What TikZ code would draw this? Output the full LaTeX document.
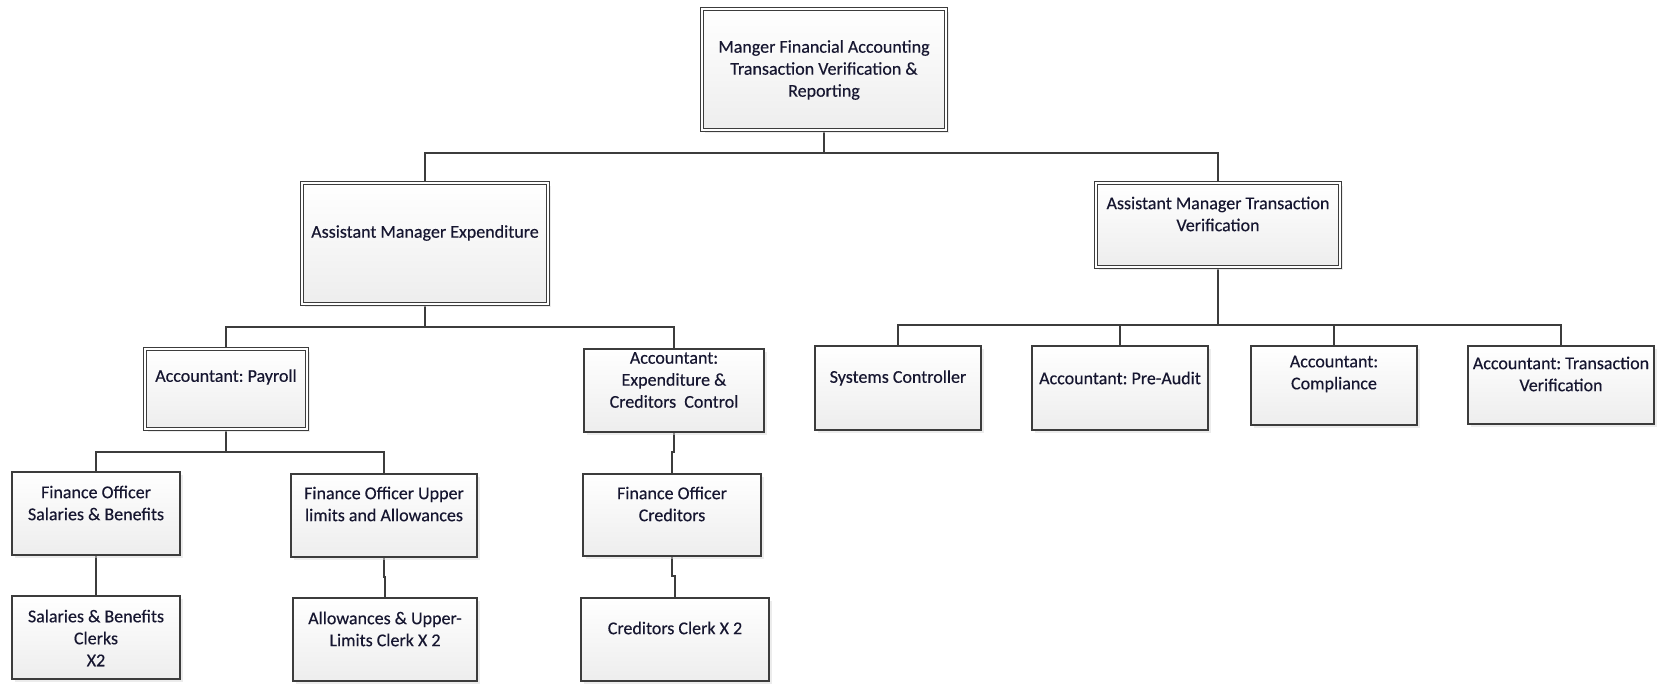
\documentclass[tikz,border=0pt]{standalone}
\usepackage{fontspec}
\setmainfont{Carlito}
\newfontfamily\capfont{Carlito}[FakeBold=0.35]
\usetikzlibrary{shadows,backgrounds}
\definecolor{edge}{RGB}{60,60,60}
\definecolor{ink}{RGB}{22,22,48}
\begin{document}
\frenchspacing
\begin{tikzpicture}[x=0.75pt,y=-0.75pt,
  card/.style 2 args={draw=edge, line width=0.95pt, outer sep=0pt, inner sep=0pt,
    anchor=north west, minimum width=#1*0.75pt, minimum height=#2*0.75pt,
    top color=white, bottom color=black!7,
    drop shadow={shadow xshift=2.2pt, shadow yshift=-2.2pt, fill=black!14}},
  headcard/.style 2 args={card={#1}{#2}, line width=0.75pt, double=white, double distance=1.5pt},
  caption/.style={align=center, text=ink, inner sep=0pt,
    font=\capfont\fontsize{13.5}{16.5}\selectfont},
  wire/.style={draw=edge, line width=1.05pt}]
\useasboundingbox (0,0) rectangle (1664,684);

% boxes of the chart
\node[headcard={244}{121}] (top) at (702,9) {};
\node[headcard={246}{121}] (amexp) at (302,183) {};
\node[headcard={244}{84}] (amtv) at (1096,183) {};
\node[headcard={162}{80}] (payroll) at (145,349) {};
\node[card={180}{83}] (accexp) at (584,349) {};
\node[card={178}{82}] (focred) at (583,474) {};
\node[card={188}{83}] (credclerk) at (581,598) {};
\node[card={168}{83}] (fosal) at (12,472) {};
\node[card={168}{83}] (salclerk) at (12,596) {};
\node[card={186}{83}] (foupper) at (291,474) {};
\node[card={184}{83}] (allowclerk) at (293,598) {};
\node[card={166}{84}] (syscon) at (815,346) {};
\node[card={176}{84}] (preaudit) at (1032,346) {};
\node[card={166}{79}] (compliance) at (1251,346) {};
\node[card={186}{78}] (transver) at (1468,346) {};

% captions
\node[caption] (top-t) at (824,70) {Manger Financial Accounting\\Transaction Verification \&\\Reporting};
\node[caption] (amexp-t) at (425,233) {Assistant Manager Expenditure};
\node[caption] (amtv-t) at (1218,214) {Assistant Manager Transaction\\Verification};
\node[caption] (payroll-t) at (226,377) {Accountant: Payroll};
\node[caption] (accexp-t) at (674,380) {Accountant:\\Expenditure \&\\Creditors\ \ Control};
\node[caption] (focred-t) at (672,504) {Finance Officer\\Creditors};
\node[caption] (credclerk-t) at (675,628) {Creditors Clerk X 2};
\node[caption] (fosal-t) at (96,503) {Finance Officer\\Salaries \& Benefits};
\node[caption] (salclerk-t) at (96,638) {Salaries \& Benefits\\Clerks\\X2};
\node[caption] (foupper-t) at (384,504) {Finance Officer Upper\\limits and Allowances};
\node[caption] (allowclerk-t) at (385,629) {Allowances \& Upper-\\Limits Clerk X 2};
\node[caption] (syscon-t) at (898,378) {Systems Controller};
\node[caption] (preaudit-t) at (1120,378) {Accountant: Pre-Audit};
\node[caption] (compliance-t) at (1334,374) {Accountant:\\Compliance};
\node[caption] (transver-t) at (1561,374) {Accountant: Transaction\\Verification};

% bus rows
\coordinate (busA) at (0,153);
\coordinate (busB) at (0,327);
\coordinate (busC) at (0,325);
\coordinate (busD) at (0,452);

\begin{pgfonlayer}{background}
\fill[white] (0,0) rectangle (1664,684);
\draw[wire] (top.south) -- (top.south |- busA) -| (amexp.north);
\draw[wire] (top.south |- busA) -| (amtv.north);
\draw[wire] (amexp.south) -- (amexp.south |- busB) -| (payroll.north);
\draw[wire] (amexp.south |- busB) -| (accexp.north);
\draw[wire] (amtv.south) -- (amtv.south |- busC) -| (syscon.north);
\draw[wire] (amtv.south |- busC) -| (preaudit.north);
\draw[wire] (amtv.south |- busC) -| (compliance.north);
\draw[wire] (amtv.south |- busC) -| (transver.north);
\draw[wire] (payroll.south) -- (payroll.south |- busD) -| (fosal.north);
\draw[wire] (payroll.south |- busD) -| (foupper.north);
\draw[wire] (fosal.south) -- (salclerk.north);
\draw[wire] (foupper.south) -- ++(0,20) -| (allowclerk.north);
\draw[wire] (accexp.south) -- ++(0,20) -| (focred.north);
\draw[wire] (focred.south) -- ++(0,20) -| (credclerk.north);
\end{pgfonlayer}
\end{tikzpicture}
\end{document}
